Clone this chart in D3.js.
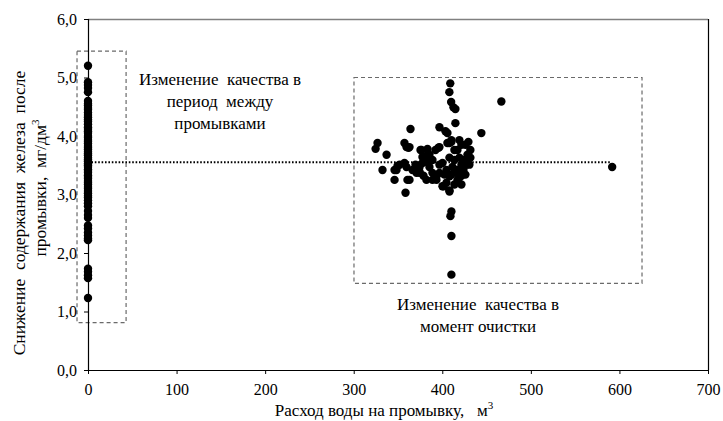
<!DOCTYPE html>
<html><head><meta charset="utf-8">
<script src="https://cdn.jsdelivr.net/npm/d3@7"></script>
<style>
body{margin:0;background:#fff;}
text{font-family:"Liberation Serif","Times New Roman",serif;fill:#000;white-space:pre;}
</style></head>
<body><svg id="c" width="723" height="421"></svg>
<script>
// ---- data ----
const xTicks = [0,100,200,300,400,500,600,700];
const yTicks = [0,1,2,3,4,5,6];
// points between washes (flow = 0)
const betweenY = [5.2,4.92,4.87,4.82,4.75,4.6,4.55,4.52,4.48,4.45,4.4,4.36,4.32,4.28,4.25,4.2,4.15,4.12,4.08,4.05,4.0,3.97,3.93,3.9,3.87,3.83,3.8,3.77,3.73,3.7,3.67,3.63,3.6,3.57,3.53,3.5,3.47,3.43,3.4,3.37,3.33,3.3,3.27,3.23,3.2,3.17,3.13,3.1,3.06,3.02,2.98,2.95,2.9,2.85,2.8,2.72,2.65,2.6,2.47,2.42,2.35,2.3,2.25,2.22,1.73,1.68,1.62,1.57,1.23];
// points at the moment of cleaning
const cleanX = [409,408,410,412.6,414.8,466.7,414.8,364.1,396.8,403.6,405.8,444.1,326.9,324.7,337.1,357.3,359.6,361.9,375.4,383.3,395.7,408.1,410.3,419.3,429.5,431.7,431.7,428.4,427.2,421.6,332.5,348.3,349.5,346.1,359.6,360.7,358.5,370.9,374.3,378.8,381.0,382.1,388.9,393.4,396.8,401.3,408.1,410.3,409.2,410.3,410.3,591.8,
363.0,376.5,385.5,377.6,396.8,405.8,410.3,346.1,357.3,366.4,374.3,377.6,385.5,388.9,393.4,400.2,404.7,408.1,411.5,413.7,416.0,417.1,404.7,400.2,408.1,363.0,382.1,388.9,374.3,
419.3,421.6,423.9,426.1,419.3,413.7,421.6,428.4,430.6,425.0,417.1,421.6,417.1,410.3,402.4,396.8,392.3,408.1,413.7,426.1,351.8,369.8,383.3];
const cleanY = [4.90,4.75,4.58,4.49,4.46,4.59,4.22,4.12,4.15,4.08,4.05,4.05,3.88,3.78,3.68,3.88,3.81,3.80,3.76,3.78,3.80,3.88,3.90,3.93,3.90,3.76,3.63,3.56,3.51,3.32,3.42,3.42,3.49,3.25,3.47,3.25,3.03,3.37,3.39,3.32,3.64,3.56,3.25,3.31,3.37,3.14,3.07,2.71,2.63,2.29,1.63,3.47,
3.81,3.76,3.68,3.64,3.81,3.88,3.93,3.42,3.54,3.42,3.37,3.54,3.47,3.37,3.25,3.54,3.42,3.31,3.47,3.59,3.37,3.25,3.20,3.14,3.05,3.25,3.25,3.59,3.47,
3.63,3.51,3.42,3.34,3.29,3.17,3.17,3.68,3.51,3.59,3.76,3.85,3.42,3.34,3.34,3.51,3.76,3.63,3.76,3.85,3.51,3.51,3.68];
const meanLevel = 3.55, meanXEnd = 590;
const box1 = {x0:-12.4, x1:43, y0:0.81, y1:5.45};
const box2 = {x0:300.3, x1:625.5, y0:1.48, y1:5.0};
const label1 = ["Изменение  качества в","период  между","промывками"];
const label2 = ["Изменение  качества в","момент очистки"];
const xTitle = "Расход воды на промывку,   м";
const yTitle1 = "Снижение  содержания  железа  после";
const yTitle2 = "промывки,  мг/дм";

// ---- chart ----
const svg = d3.select("#c");
const L=88, R=708, T=19, B=370;
const x = d3.scaleLinear().domain([0,700]).range([L,R]);
const y = d3.scaleLinear().domain([0,6]).range([B,T]);
const fmt = d => d.toFixed(1).replace(".",",");
const FF = "Liberation Serif, Times New Roman, serif";

// frame top (grey) and right (black)
svg.append("line").attr("x1",L).attr("x2",R).attr("y1",T+0.5).attr("y2",T+0.5).attr("stroke","#808080").attr("stroke-width",1.5);
svg.append("line").attr("x1",R+0.5).attr("x2",R+0.5).attr("y1",T).attr("y2",B).attr("stroke","#000").attr("stroke-width",1.2);

// boxes
[box1,box2].forEach(b=>{
  svg.append("rect").attr("x",x(b.x0)).attr("y",y(b.y1))
    .attr("width",x(b.x1)-x(b.x0)).attr("height",y(b.y0)-y(b.y1))
    .attr("fill","none").attr("stroke","#6a6a6a").attr("stroke-width",1.2)
    .attr("stroke-dasharray","4,3");
});

// mean dotted line
svg.append("line").attr("x1",x(0)).attr("x2",x(meanXEnd)).attr("y1",y(meanLevel)).attr("y2",y(meanLevel))
  .attr("stroke","#000").attr("stroke-width",2).attr("stroke-dasharray","1.6,1.8");

// axes
const xAxis = d3.axisBottom(x).tickValues(xTicks).tickSize(4).tickFormat(d3.format("d"));
const yAxis = d3.axisLeft(y).tickValues(yTicks).tickSize(4).tickFormat(fmt);
const gx = svg.append("g").attr("transform",`translate(0,${B})`).call(xAxis);
const gy = svg.append("g").attr("transform",`translate(${L},0)`).call(yAxis);
[gx,gy].forEach(g=>{
  g.attr("font-family",FF);
  g.select(".domain").attr("stroke","#000").attr("stroke-width",1.2);
  g.selectAll(".tick line").attr("stroke","#000");
  g.selectAll(".tick text").attr("font-family",FF).attr("font-size",16).attr("fill","#000");
});
gx.select(".domain").attr("d",`M${L},0.5H${R}`);
gy.select(".domain").attr("d",`M0.5,${B}V${T}`);
gx.selectAll(".tick text").attr("dy","1.15em");
gy.selectAll(".tick text").attr("x",-11);

// points
const pts = betweenY.map(v=>[0,v]).concat(cleanX.map((v,i)=>[v,cleanY[i]]));
svg.append("g").selectAll("circle").data(pts).join("circle")
  .attr("cx",d=>x(d[0])).attr("cy",d=>y(d[1])).attr("r",4.2).attr("fill","#000");

// annotations
const a1 = svg.append("text").attr("font-size",17).attr("text-anchor","middle");
label1.forEach((t,i)=>a1.append("tspan").attr("x",220).attr("y",85+i*22).text(t));
const a2 = svg.append("text").attr("font-size",17).attr("text-anchor","middle");
label2.forEach((t,i)=>a2.append("tspan").attr("x",478).attr("y",310+i*22).text(t));

// axis titles
const xt = svg.append("text").attr("font-size",17).attr("text-anchor","middle").attr("x",384).attr("y",416);
xt.append("tspan").text(xTitle);
xt.append("tspan").attr("font-size",11).attr("dy",-7).text("3");

const yt1 = svg.append("text").attr("font-size",17.5).attr("text-anchor","middle")
  .attr("transform","translate(25,213) rotate(-90)").text(yTitle1);
const yt2 = svg.append("text").attr("font-size",17.5).attr("text-anchor","middle")
  .attr("transform","translate(46,188) rotate(-90)");
yt2.append("tspan").text(yTitle2);
yt2.append("tspan").attr("font-size",11).attr("dy",-7).text("3");
</script></body></html>
